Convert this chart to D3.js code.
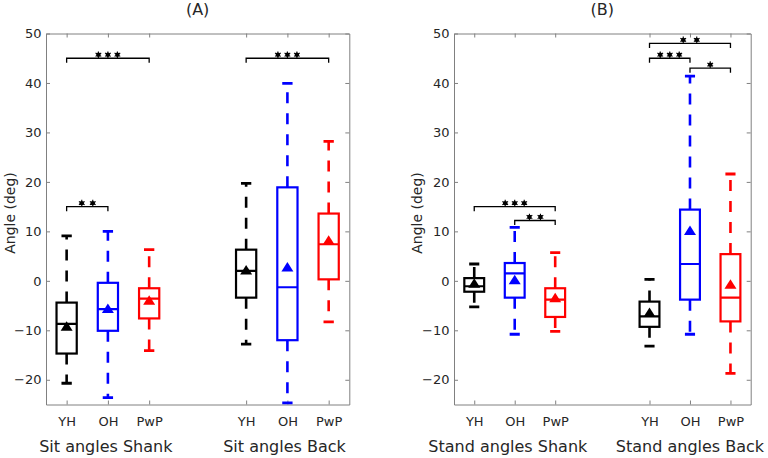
<!DOCTYPE html>
<html>
<head>
<meta charset="utf-8">
<script src="https://cdn.jsdelivr.net/npm/d3@7"></script>
<style>
  body { margin: 0; background: #fff; }
  svg { display: block; font-family: "DejaVu Sans", sans-serif; }
</style>
</head>
<body>
<svg id="chart" width="768" height="458"></svg>
<script>
// ---------- data ----------
const groupLabels = ["YH", "OH", "PwP", "YH", "OH", "PwP"];
const boxColors = ["#000000", "#0000ff", "#ff0000", "#000000", "#0000ff", "#ff0000"];
const yTicks = [-20, -10, 0, 10, 20, 30, 40, 50];

// Panel A: Sit
const titleA = "(A)";
const categoriesA = ["Sit angles Shank", "Sit angles Back"];
const positionsA = [1, 2, 3, 5.35, 6.35, 7.35];
const whiskerLowA  = [-20.7, -23.6, -14.1, -12.8, -24.7, -8.3];
const q1A          = [-14.7, -10.1, -7.6, -3.4, -12.0, 0.3];
const medianA      = [-8.7, -5.7, -3.6, 2.0, -1.3, 7.4];
const q3A          = [-4.4, -0.4, -1.5, 6.3, 18.9, 13.6];
const whiskerHighA = [9.1, 10.0, 6.3, 19.7, 39.9, 28.2];
const meanA        = [-9.2, -5.6, -3.9, 2.2, 2.8, 8.2];
const bracketFromA = [0, 0, 3];
const bracketToA   = [2, 1, 5];
const bracketYA    = [45, 15, 45];
const bracketStarsA = ["***", "**", "***"];

// Panel B: Stand
const titleB = "(B)";
const categoriesB = ["Stand angles Shank", "Stand angles Back"];
const positionsB = [1, 2, 3, 5.33, 6.33, 7.33];
const whiskerLowB  = [-5.25, -10.8, -10.2, -13.2, -10.8, -18.7];
const q1B          = [-2.2, -3.4, -7.3, -9.3, -3.8, -8.2];
const medianB      = [-1.1, 1.5, -3.8, -7.2, 3.4, -3.4];
const q3B          = [0.55, 3.6, -1.5, -4.2, 14.4, 5.4];
const whiskerHighB = [3.4, 10.8, 5.7, 0.3, 41.4, 21.6];
const meanB        = [-0.5, 0.2, -3.4, -6.4, 10.2, -0.7];
const bracketFromB = [0, 1, 3, 3, 4];
const bracketToB   = [2, 2, 5, 4, 5];
const bracketYB    = [15, 12.2, 48, 45, 43];
const bracketStarsB = ["***", "**", "**", "***", "*"];

// ---------- drawing ----------
const svg = d3.select("#chart");
const yRange = [404.5, 33.5];
const axisColor = "#808080";
const textColor = "#262626";

function drawPanel(cfg) {
  const x = d3.scaleLinear().domain(cfg.xDomain).range(cfg.xRange);
  const y = d3.scaleLinear().domain([-25, 50]).range(yRange);
  const g = svg.append("g");
  const [x0, x1] = cfg.xRange;
  const clipId = "clip" + cfg.id;
  svg.append("clipPath").attr("id", clipId)
    .append("rect").attr("x", x0).attr("y", yRange[1]).attr("width", x1 - x0).attr("height", yRange[0] - yRange[1]);

  // axes
  const yAxisL = d3.axisLeft(y).tickValues(yTicks).tickSizeInner(-4).tickSizeOuter(0).tickPadding(4.5);
  const yAxisR = d3.axisRight(y).tickValues(yTicks).tickSizeInner(-4).tickSizeOuter(0).tickFormat("");
  const xAxisB = d3.axisBottom(x).tickValues(cfg.positions).tickSizeInner(-4).tickSizeOuter(0).tickPadding(12)
    .tickFormat((d, i) => groupLabels[i]);
  const xAxisT = d3.axisTop(x).tickValues(cfg.positions).tickSizeInner(-4).tickSizeOuter(0).tickFormat("");

  const axes = [
    g.append("g").attr("transform", `translate(${x0},0)`).call(yAxisL),
    g.append("g").attr("transform", `translate(${x1},0)`).call(yAxisR),
    g.append("g").attr("transform", `translate(0,${yRange[0]})`).call(xAxisB),
    g.append("g").attr("transform", `translate(0,${yRange[1]})`).call(xAxisT)
  ];
  axes.forEach(a => {
    a.selectAll("path.domain").attr("stroke", axisColor).attr("stroke-width", 1);
    a.selectAll(".tick line").attr("stroke", axisColor).attr("stroke-width", 1);
    a.selectAll(".tick text").attr("fill", textColor).attr("font-size", 13)
      .attr("font-family", "DejaVu Sans, sans-serif");
  });

  // title
  g.append("text").attr("x", (x0 + x1) / 2).attr("y", 15).attr("text-anchor", "middle")
    .attr("font-size", 16).attr("fill", textColor).text(cfg.title);
  // y label
  g.append("text").attr("transform", `translate(${cfg.yLabelX},213) rotate(-90)`)
    .attr("text-anchor", "middle").attr("font-size", 14).attr("fill", textColor).text("Angle (deg)");
  // category labels
  cfg.categories.forEach((c, i) => {
    g.append("text").attr("x", x(cfg.catPos[i])).attr("y", 452).attr("text-anchor", "middle")
      .attr("font-size", 16).attr("fill", textColor).text(c);
  });

  // boxes
  const plot = g.append("g").attr("clip-path", `url(#${clipId})`);
  const boxHalf = 0.245, capHalf = 0.125;
  cfg.positions.forEach((p, i) => {
    const col = boxColors[i];
    const cx = x(p);
    const bw = x(p + boxHalf) - cx;
    const cw = x(p + capHalf) - cx;
    // whiskers (dashed, starting at box edge)
    plot.append("line").attr("x1", cx).attr("x2", cx)
      .attr("y1", y(cfg.q3[i])).attr("y2", y(cfg.hi[i]))
      .attr("stroke", col).attr("stroke-width", 2.6).attr("stroke-dasharray", "11,10");
    plot.append("line").attr("x1", cx).attr("x2", cx)
      .attr("y1", y(cfg.q1[i])).attr("y2", y(cfg.lo[i]))
      .attr("stroke", col).attr("stroke-width", 2.6).attr("stroke-dasharray", "11,10");
    // caps
    [cfg.hi[i], cfg.lo[i]].forEach(v => {
      plot.append("line").attr("x1", cx - cw).attr("x2", cx + cw)
        .attr("y1", y(v)).attr("y2", y(v)).attr("stroke", col).attr("stroke-width", 2.8);
    });
    // box
    plot.append("rect").attr("x", cx - bw).attr("width", 2 * bw)
      .attr("y", y(cfg.q3[i])).attr("height", y(cfg.q1[i]) - y(cfg.q3[i]))
      .attr("fill", "none").attr("stroke", col).attr("stroke-width", 2.2);
    // median
    plot.append("line").attr("x1", cx - bw).attr("x2", cx + bw)
      .attr("y1", y(cfg.med[i])).attr("y2", y(cfg.med[i])).attr("stroke", col).attr("stroke-width", 2.2);
    // mean triangle
    const my = y(cfg.mean[i]);
    plot.append("path")
      .attr("d", `M${cx - 6},${my + 4.5}L${cx + 6},${my + 4.5}L${cx},${my - 5}Z`)
      .attr("fill", col);
  });

  // significance brackets
  const star = d3.symbol().type(d3.symbolAsterisk).size(30);
  cfg.bFrom.forEach((f, k) => {
    const xa = x(cfg.positions[f]), xb = x(cfg.positions[cfg.bTo[k]]);
    const yy = y(cfg.bY[k]);
    g.append("path").attr("d", `M${xa},${yy + 4.5}V${yy}H${xb}V${yy + 4.5}`)
      .attr("fill", "none").attr("stroke", "#000").attr("stroke-width", 1.3);
    const n = cfg.bStars[k].length;
    const sp = n === 3 ? 9.5 : (xb - xa > 60 ? 13.5 : 11);
    const mid = (xa + xb) / 2;
    for (let s = 0; s < n; s++) {
      const sx = mid + (s - (n - 1) / 2) * sp;
      g.append("circle").attr("cx", sx).attr("cy", yy - 3.5).attr("r", 2.2).attr("fill", "#000");
      g.append("path").attr("d", star).attr("transform", `translate(${sx},${yy - 3.5})`)
        .attr("stroke", "#000").attr("stroke-width", 1.1).attr("fill", "none");
    }
  });
}

drawPanel({
  id: "A", title: titleA, categories: categoriesA, catPos: [1.95, 6.28],
  xDomain: [0.5, 7.85], xRange: [46, 349.3], yLabelX: 15,
  positions: positionsA, lo: whiskerLowA, q1: q1A, med: medianA, q3: q3A, hi: whiskerHighA, mean: meanA,
  bFrom: bracketFromA, bTo: bracketToA, bY: bracketYA, bStars: bracketStarsA
});
drawPanel({
  id: "B", title: titleB, categories: categoriesB, catPos: [1.83, 6.33],
  xDomain: [0.5, 7.83], xRange: [454, 750.7], yLabelX: 422,
  positions: positionsB, lo: whiskerLowB, q1: q1B, med: medianB, q3: q3B, hi: whiskerHighB, mean: meanB,
  bFrom: bracketFromB, bTo: bracketToB, bY: bracketYB, bStars: bracketStarsB
});
</script>
</body>
</html>
